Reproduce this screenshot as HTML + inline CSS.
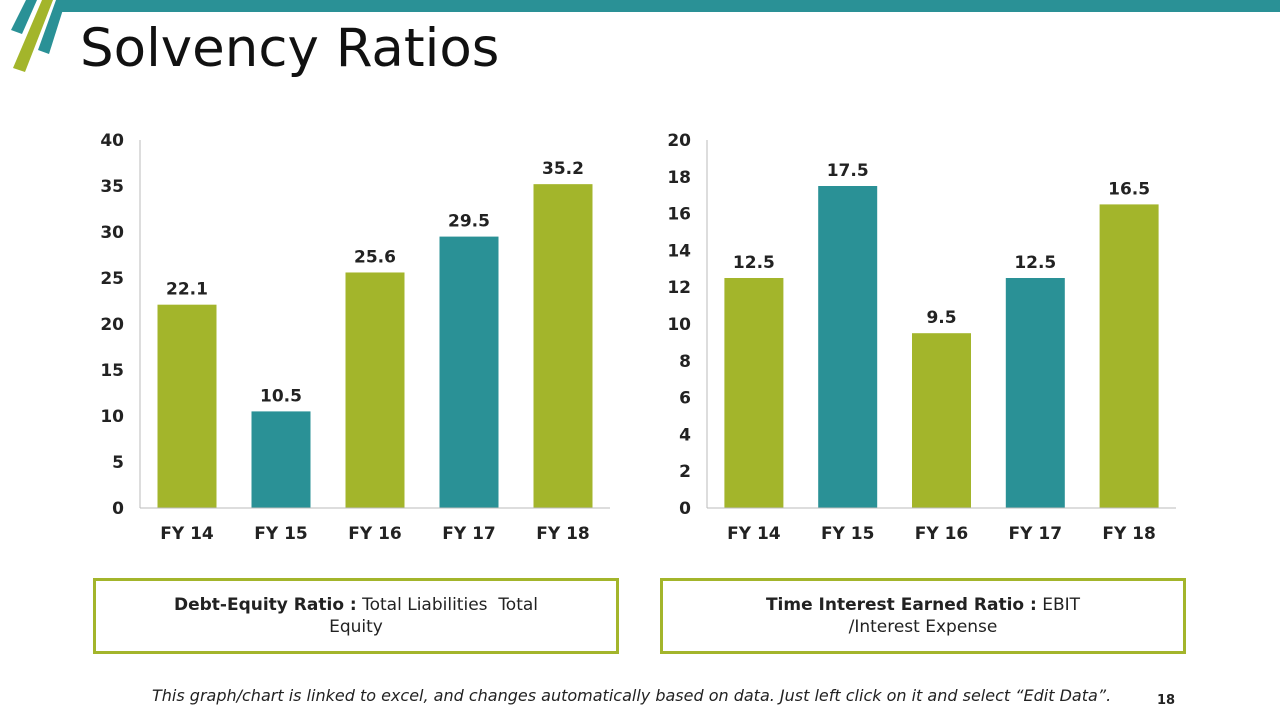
<!DOCTYPE html>
<html><head><meta charset="utf-8"><style>
body{margin:0;width:1280px;height:720px;overflow:hidden;background:#fff;font-family:"DejaVu Sans","Liberation Sans",sans-serif;position:relative}
.box{position:absolute;top:578px;width:520px;height:70px;border:3px solid #a3b52b;box-sizing:content-box;display:flex;align-items:center;justify-content:center;text-align:center;font-size:17px;color:#222;line-height:22px}
</style></head><body>
<svg width="1280" height="90" style="position:absolute;left:0;top:0">
<polygon points="62,0 1280,0 1280,12 58,12" fill="#2a9196"/>
<polygon points="26,0 37,0 22,34 11,30" fill="#2a9196"/>
<polygon points="56,0 66,0 49,54 38,50" fill="#2a9196"/>
<polygon points="42,0 53,0 25,72 13,68" fill="#a3b52b"/>
</svg>
<div style="position:absolute;left:80px;top:18px;font-size:53px;color:#111">Solvency Ratios</div>
<svg id="c" width="1280" height="560" style="position:absolute;left:0;top:0"></svg>
<div class="box" style="left:93px"><div style="width:420px"><b>Debt-Equity Ratio :</b> Total Liabilities&nbsp; Total Equity</div></div>
<div class="box" style="left:660px"><div style="width:370px"><b>Time Interest Earned Ratio :</b> EBIT /Interest Expense</div></div>
<div style="position:absolute;left:152px;top:686px;font-style:italic;font-size:16px;color:#222;white-space:nowrap">This graph/chart is linked to excel, and changes automatically based on data. Just left click on it and select “Edit Data”.</div>
<div style="position:absolute;left:1157px;top:693px;font-size:13px;font-weight:bold;color:#222">18</div>
<script>
const categories=["FY 14","FY 15","FY 16","FY 17","FY 18"];
const debtEquity=[22.1,10.5,25.6,29.5,35.2];
const tie=[12.5,17.5,9.5,12.5,16.5];
const ticks1=[0,5,10,15,20,25,30,35,40];
const ticks2=[0,2,4,6,8,10,12,14,16,18,20];
const colors1=["#a3b52b","#2a9196","#a3b52b","#2a9196","#a3b52b"];
const colors2=["#a3b52b","#2a9196","#a3b52b","#2a9196","#a3b52b"];
const svg=document.getElementById('c');
const NS='http://www.w3.org/2000/svg';
function mk(t,a,txt){const e=document.createElementNS(NS,t);for(const k in a)e.setAttribute(k,a[k]);if(txt!=null)e.textContent=txt;svg.appendChild(e);return e;}
function chart(x0,x1,vals,ticks,cols,id){
 const y0=508,yTop=140,max=ticks[ticks.length-1];
 const ys=v=>y0-(v/max)*(y0-yTop);
 const band=(x1-x0)/categories.length;
 const xs=i=>x0+band*(i+0.5);
 ticks.forEach(t=>{const e=mk('text',{x:x0-16,y:ys(t)+6,'text-anchor':'end','font-size':17,'font-weight':'bold',fill:'#222'},t);
 
 });
 vals.forEach((v,i)=>{
  const r=mk('rect',{x:xs(i)-29.5,y:ys(v),width:59,height:y0-ys(v),fill:cols[i]});
  
  
  const l=mk('text',{x:xs(i),y:ys(v)-10,'text-anchor':'middle','font-size':17,'font-weight':'bold',fill:'#222'},v);
  
  
  const c=mk('text',{x:xs(i),y:539,'text-anchor':'middle','font-size':17,'font-weight':'bold',fill:'#222'},categories[i]);
  
  
 });
 const a=mk('line',{x1:x0,y1:yTop,x2:x0,y2:y0,stroke:'#bbb','stroke-width':1});
 
 
 const b=mk('line',{x1:x0,y1:y0,x2:x1,y2:y0,stroke:'#bbb','stroke-width':1});
 
 
}
chart(140,610,debtEquity,ticks1,colors1,'debt-equity');
chart(707,1176,tie,ticks2,colors2,'tie');
</script>
</body></html>
